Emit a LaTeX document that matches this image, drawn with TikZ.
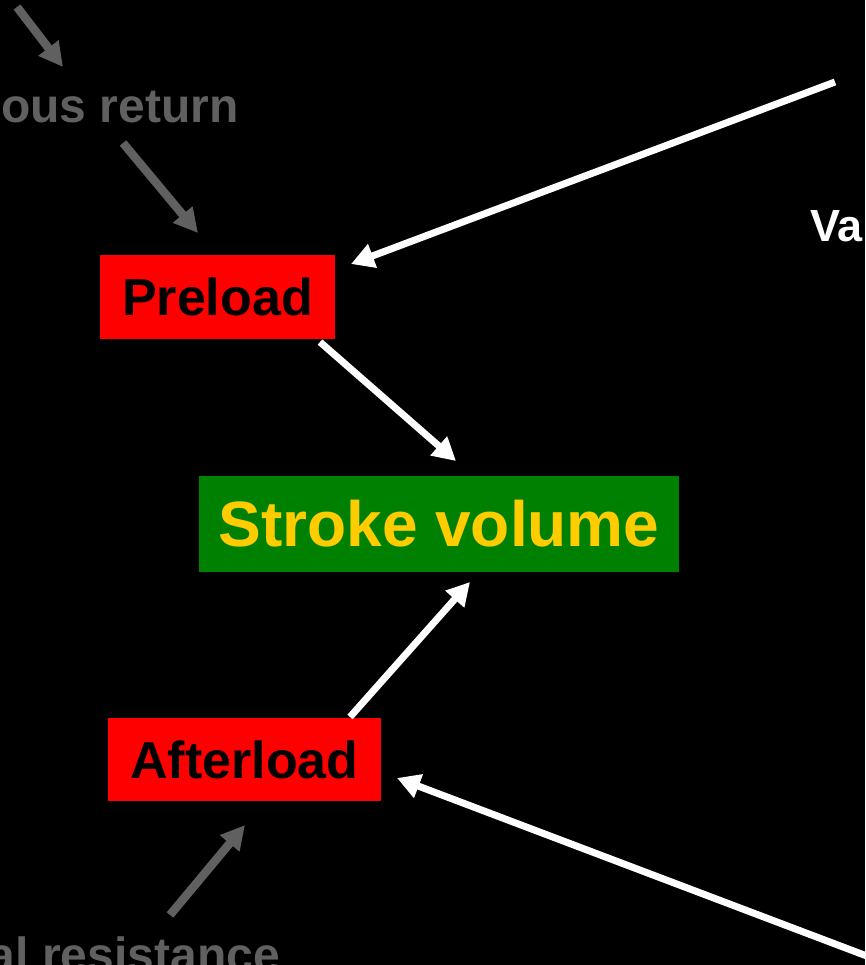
\documentclass[tikz,border=0pt]{standalone}
\usepackage{fontspec}
\setmainfont{Liberation Sans}
\usetikzlibrary{arrows.meta}
\definecolor{boxred}{RGB}{255,0,0}
\definecolor{boxgreen}{RGB}{0,128,0}
\definecolor{svyellow}{RGB}{255,204,0}
\definecolor{dimgray}{RGB}{96,96,96}
\tikzset{
  redbox/.style={fill=boxred, text=black, inner sep=0pt, font=\bfseries\fontsize{52}{60}\selectfont},
  greenbox/.style={fill=boxgreen, text=svyellow, inner sep=0pt, font=\bfseries\fontsize{64}{72}\selectfont},
  graylabel/.style={text=dimgray, inner sep=0pt, font=\bfseries\fontsize{48}{56}\selectfont},
  whitelabel/.style={text=white, inner sep=0pt, font=\bfseries\fontsize{45}{52}\selectfont},
  grayarrow/.style={draw=dimgray, line width=8.5pt, -{Triangle[length=24pt,width=24pt]}},
  whitearrow/.style={draw=white, line width=7pt, -{Triangle[length=23pt,width=24pt]}}
}
\begin{document}
\begin{tikzpicture}[x=1pt,y=-1pt]
\useasboundingbox (0,0) rectangle (865,965);
\fill[black] (0,0) rectangle (865,965);
\clip (0,0) rectangle (865,965);
% boxes
\node[redbox, minimum width=235pt, minimum height=84pt] (pre) at (217.5,297) {Preload};
\node[greenbox, minimum width=480pt, minimum height=96pt] (sv) at (439,524) {Stroke volume};
\node[redbox, minimum width=273pt, minimum height=83pt] (aft) at (244.5,759.5) {Afterload};
% labels
\node[graylabel, anchor=base west] (vr) at (1,123) {ous return};
\node[graylabel, anchor=base east] (pr) at (280,971) {al resistance};
\node[whitelabel, anchor=base west] (va) at (810,242) {Va};
% coordinates
\coordinate (g1s) at (17,7);
\coordinate (g1e) at (63,67);
\coordinate (g2s) at (123,143);
\coordinate (g2e) at (198,233);
\coordinate (g3s) at (170,915);
\coordinate (g3e) at (245,825);
\coordinate (w1s) at (835,82);
\coordinate (w1e) at (351,264);
\coordinate (w2s) at (320,342);
\coordinate (w2e) at (456,461);
\coordinate (w3s) at (350,717);
\coordinate (w3e) at (470,582);
\coordinate (w4s) at (880,961);
\coordinate (w4e) at (397,778);
% arrows
\draw[grayarrow] (g1s) -- (g1e);
\draw[grayarrow] (g2s) -- (g2e);
\draw[grayarrow] (g3s) -- (g3e);
\draw[whitearrow] (w1s) -- (w1e);
\draw[whitearrow] (w2s) -- (w2e);
\draw[whitearrow] (w3s) -- (w3e);
\draw[whitearrow] (w4s) -- (w4e);
\end{tikzpicture}
\end{document}
